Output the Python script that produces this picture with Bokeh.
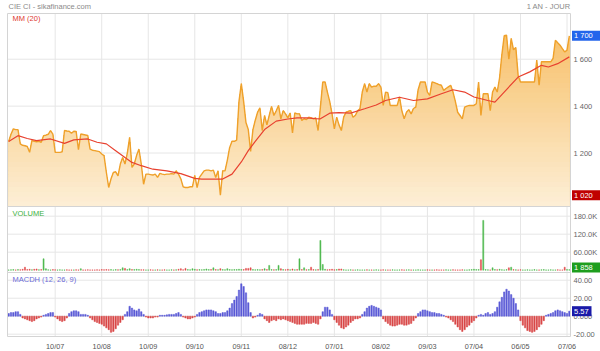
import numpy as np
from bokeh.plotting import figure
from bokeh.models import Range1d
from bokeh.core.properties import value
from bokeh.embed import file_html
from bokeh.resources import INLINE

# ---------------- data ----------------
close = [
    1249, 1280, 1303, 1300, 1300, 1239, 1233, 1231, 1228, 1203,
    1253, 1250, 1248, 1250, 1246, 1274, 1276, 1280, 1296, 1281,
    1203, 1203, 1203, 1205, 1296, 1294, 1293, 1284, 1293, 1292,
    1214, 1281, 1279, 1277, 1275, 1217, 1212, 1210, 1208, 1206,
    1196, 1189, 1117, 1053, 1090, 1117, 1120, 1103, 1153, 1181,
    1153, 1200, 1267, 1139, 1153, 1190, 1217, 1153, 1067, 1110,
    1110, 1108, 1106, 1110, 1096, 1113, 1110, 1108, 1110, 1110,
    1112, 1110, 1124, 1110, 1090, 1056, 1053, 1053, 1056, 1056,
    1105, 1053, 1096, 1110, 1124, 1127, 1127, 1124, 1127, 1096,
    1124, 1020, 1124, 1124, 1170, 1224, 1250, 1250, 1255, 1420,
    1496, 1420, 1330, 1300, 1207, 1300, 1340, 1374, 1393, 1296,
    1360, 1320, 1360, 1399, 1360, 1380, 1403, 1346, 1381, 1367,
    1350, 1371, 1286, 1371, 1367, 1367, 1339, 1346, 1343, 1353,
    1350, 1346, 1350, 1296, 1396, 1503, 1503, 1460, 1420, 1367,
    1303, 1353, 1320, 1296, 1353, 1374, 1378, 1381, 1353, 1360,
    1380, 1389, 1460, 1496, 1460, 1496, 1481, 1485, 1485, 1496,
    1481, 1403, 1460, 1457, 1403, 1403, 1403, 1403, 1439, 1380,
    1346, 1374, 1385, 1367, 1390, 1396, 1470, 1503, 1503, 1503,
    1460, 1446, 1503, 1500, 1496, 1492, 1489, 1467, 1475, 1482,
    1489, 1460, 1420, 1374, 1360, 1346, 1396, 1400, 1403, 1403,
    1403, 1410, 1503, 1360, 1453, 1453, 1453, 1381, 1460, 1481,
    1460, 1520, 1620, 1700, 1703, 1600, 1689, 1640, 1650, 1530,
    1503, 1503, 1503, 1503, 1503, 1503, 1503, 1596, 1489, 1589,
    1589, 1589, 1589, 1589, 1603, 1681, 1670, 1660, 1645, 1631,
    1639, 1700,
]

ma_idx = [0, 4, 8, 12, 18, 24, 28, 34, 38, 42,
          46, 50, 53, 57, 62, 68, 74, 80, 83, 92,
          96, 100, 103, 106, 110, 115, 120, 124, 128, 132,
          134, 138, 142, 147, 153, 158, 162, 168, 174, 180,
          186, 191, 196, 200, 206, 209, 213, 219, 224, 229,
          232, 236, 241]
ma_val = [1249, 1274, 1262, 1253, 1260, 1241, 1256, 1260, 1246, 1239,
          1210, 1181, 1160, 1146, 1131, 1124, 1112, 1092, 1089, 1089,
          1110, 1162, 1210, 1250, 1300, 1336, 1345, 1350, 1350, 1347,
          1346, 1370, 1372, 1370, 1389, 1405, 1424, 1438, 1424, 1431,
          1453, 1470, 1460, 1439, 1424, 1417, 1460, 1524, 1546, 1574,
          1567, 1581, 1610]

volume_k = [
    1, 1.5, 2, 1, 2, 1.5, 3, 10, 2, 3, 1.5, 3, 4, 1.5, 2, 38, 5, 1.5, 1, 2,
    1.5, 1, 1.5, 1, 1, 1.5, 1, 1, 1, 1.5, 1, 5, 1, 1, 1.5, 1, 1, 1, 1.5, 1,
    2, 1.5, 2, 1.5, 2, 1, 2, 1.5, 2, 8, 6, 2, 5, 2, 2, 3, 2, 1.5, 1.5, 1,
    1, 1.5, 1, 1, 1.5, 1, 1, 1.5, 1, 1, 1.5, 1, 1.5, 3, 5, 1.5, 6, 2, 1.5, 5,
    3, 1.5, 2, 1.5, 2, 4, 2, 2, 8, 2, 1.5, 5, 2, 1.5, 5, 2, 1.5, 2, 2, 3,
    2, 2, 6, 6, 8, 2, 1.5, 2, 1.5, 2, 5, 2, 16, 2, 1.5, 2, 16, 5, 2, 1.5,
    3, 1.5, 4, 1.5, 2, 38, 2, 8, 1.5, 2, 10, 2, 1.5, 2, 99, 19, 3, 1.5, 2, 3,
    1.5, 2, 4, 4, 1.5, 1, 1, 1.5, 1, 1, 1.5, 1, 1, 1, 1.5, 1, 1, 1, 1.5, 1,
    1, 1.5, 1, 1, 1, 1.5, 1, 1, 1, 1.5, 1, 1, 1.5, 1, 1, 1, 1.5, 1, 1, 1,
    1.5, 1, 1, 1, 1.5, 1, 1, 1, 1.5, 1, 1, 1.5, 1, 1, 1, 1.5, 1, 1, 1.5, 2,
    3, 2, 2, 35, 166, 2, 1.5, 1, 8, 2, 1.5, 3, 1.5, 1, 2, 8, 10, 2, 1.5, 1,
    1.5, 1, 1, 1.5, 1, 1, 2, 1, 1, 1.5, 2, 1, 1, 1.5, 1, 1, 1.5, 1, 1, 10, 2, 1.858,
]

macd_hist = [
    3, 4, 4, 5, 5, 2, -2, -3, -4, -5,
    -6, -5, -3, -2, -1, 1, 2, 3, 4, 4,
    -1, -3, -5, -6, -5, -2, 3, 5, 6, 6,
    5, 2, 2, 2, 1, -2, -4, -6, -7, -8,
    -9, -11, -13, -15, -18, -17, -14, -10, -7, -4,
    2, 5, 11, 9, 7, 6, 8, 5, 2, -1,
    -2, -2, -2, -1, -1, 1, 1, 1, 1.5, 2,
    2, 2, 3, 4, 2, -1, -2, -3, -3, -2,
    -1, 2, 4, 5, 6, 7, 7, 7, 6, 5,
    3, 3, 4, 4, 6, 9, 14, 18, 22, 29,
    36, 33, 26, 15, 4, -2, -1, 1, 3, 2,
    -3, -5, -7, -5, -4, -5, -3, -4, -3, -4,
    -5, -6, -7, -8, -9, -9, -9, -9, -8, -8,
    -8, -7, -8, -9, -3, 5, 10, 10, 7, 2,
    -4, -7, -10, -13, -14, -12, -10, -7, -5, -3,
    -3, -2, 2, 5, 9, 11, 12, 11, 10, 9,
    7, -3, -6, -8, -10, -11, -11, -10, -9, -9,
    -10, -10, -9, -8, -5, -2, 3, 5, 7, 7,
    6, 5, 4, 4, 3, 3, 2, 1, -1, -2,
    -4, -6, -9, -12, -15, -17, -15, -12, -10, -7,
    -5, -2, 1, 2, 1, 3, 4, 2, 3, 5,
    10, 16, 21, 27, 30, 28, 24, 20, 14, 7,
    -5, -10, -13, -16, -17, -18, -17, -15, -12, -9,
    -5, 1, 2, 3, 4, 6, 7, 6, 5, 4,
    3, 5.57,
]

tick_idx = [20, 40, 60, 80, 100, 120, 140, 160, 180, 200, 220, 240]
tick_labels = ["10/07", "10/08", "10/09", "09/10", "09/11", "08/12",
               "07/01", "08/02", "09/03", "07/04", "06/05", "07/06"]

price_ticks = [1200, 1400, 1600]
price_tick_labels = ["1 200", "1 400", "1 600"]
vol_ticks = [60, 120, 180]
vol_tick_labels = ["60.00K", "120.0K", "180.0K"]
macd_ticks = [-20, 0, 20, 40]
macd_tick_labels = ["-20.00", "0.000", "20.00", "40.00"]

# ---------------- layout (canvas pixels) ----------------
W, H = 600, 351
FX0, FX1 = 7, 570                 # plotting frame, left / right
PX = (FX1 - FX0) / len(close)     # pixels per session

# panels: (top px, bottom px, value at top, value at bottom)
P_T, P_B, P_VT, P_VB = 13, 206, 1795.0, 972.0
V_T, V_B, V_VT, V_VB = 206, 272, 212.3, -7.7
M_T, M_B, M_VT, M_VB = 272, 336, 48.6, -22.6


def xpx(px):
    return -0.5 + (px - FX0) / PX


def mk(top, bot, vt, vb):
    k = (vt - vb) / (bot - top)
    return lambda py: vt - (py - top) * k


P = mk(P_T, P_B, P_VT, P_VB)
V = mk(V_T, V_B, V_VT, V_VB)
M = mk(M_T, M_B, M_VT, M_VB)

FONT = "Liberation Sans"
FS = "7.5px"
GRID = "#e6e6e6"
OUTLINE = "#d4d4d4"

p = figure(width=W, height=H, x_range=Range1d(xpx(0), xpx(W)),
           y_range=Range1d(P(H), P(0)), output_backend="svg",
           toolbar_location=None, title=None, min_border=0,
           x_axis_location=None, y_axis_location=None)
p.extra_y_ranges = {"vol": Range1d(V(H), V(0)), "macd": Range1d(M(H), M(0))}
p.xgrid.visible = False
p.ygrid.visible = False
p.outline_line_color = None
p.background_fill_color = "white"
p.border_fill_color = "white"

panels = [("default", P, P_T, P_B, price_ticks, price_tick_labels),
          ("vol", V, V_T, V_B, vol_ticks, vol_tick_labels),
          ("macd", M, M_T, M_B, macd_ticks, macd_tick_labels)]

# grids + tick labels
for rname, f, top, bot, yt, yl in panels:
    n = len(tick_idx)
    p.segment(x0=tick_idx, x1=tick_idx, y0=[f(bot)] * n, y1=[f(top)] * n,
              line_color=GRID, line_width=1, y_range_name=rname)
    m = len(yt)
    p.segment(x0=[xpx(FX0)] * m, x1=[xpx(FX1)] * m, y0=yt, y1=yt,
              line_color=GRID, line_width=1, y_range_name=rname)
    p.text(x=[xpx(573)] * m, y=yt, text=yl, text_font=value(FONT),
           text_font_size=value(FS), text_color="#666666",
           text_baseline="middle", text_align="left", y_range_name=rname)

idx = list(range(len(close)))

# ---------------- price panel ----------------
top_rgb = np.array([246, 188, 96])
bot_rgb = np.array([253, 239, 216])
cl = np.array(close, dtype=float)
for L in np.linspace(P_VT, P_VB, 40):
    t = (L - P_VB) / (P_VT - P_VB)
    c = bot_rgb + t * (top_rgb - bot_rgb)
    col = "#%02x%02x%02x" % tuple(int(round(v)) for v in c)
    p.varea(x=idx, y1=P_VB, y2=np.minimum(cl, L), fill_color=col, fill_alpha=0.92)

p.line(idx, close, line_color="#EFA12B", line_width=1.4)
p.line(ma_idx, ma_val, line_color="#E8412F", line_width=1.2)

# ---------------- volume panel ----------------
vcol = ["#4DB84D" if i == 0 or close[i] >= close[i - 1] else "#E04848"
        for i in range(len(volume_k))]
p.vbar(x=list(range(len(volume_k))), top=volume_k, bottom=0, width=0.45,
       fill_color=vcol, line_color=vcol, line_width=0.5, y_range_name="vol")

# ---------------- MACD histogram panel ----------------
mcol = ["#5A5AD6" if v >= 0 else "#D94848" for v in macd_hist]
p.vbar(x=list(range(len(macd_hist))), top=macd_hist, bottom=0, width=0.6,
       fill_color=mcol, line_color=mcol, line_width=0.5, y_range_name="macd")

# panel borders
for rname, f, top, bot, yt, yl in panels:
    p.quad(left=[xpx(FX0)], right=[xpx(FX1)], bottom=[f(bot)], top=[f(top)],
           fill_color=None, line_color=OUTLINE, line_width=1, y_range_name=rname)

# x tick labels under the MACD panel
p.text(x=tick_idx, y=[M(345.5)] * len(tick_idx), text=tick_labels,
       text_font=value(FONT), text_font_size=value("7.3px"), text_color="#555555",
       text_baseline="middle", text_align="center", y_range_name="macd")

# header
p.text(x=[xpx(8)], y=[P(5.5)], text=["CIE CI - sikafinance.com"],
       text_font=value(FONT), text_font_size=value(FS), text_color="#8a8a8a",
       text_baseline="middle", text_align="left")
p.text(x=[xpx(FX1)], y=[P(5.5)], text=["1 AN - JOUR"],
       text_font=value(FONT), text_font_size=value(FS), text_color="#8a8a8a",
       text_baseline="middle", text_align="right")

# panel titles
for rname, f, ypx, txt, col in [("default", P, 17.8, "MM (20)", "#E0392F"),
                                ("vol", V, 213, "VOLUME", "#3DB03D"),
                                ("macd", M, 279, "MACDH (12, 26, 9)", "#6B6BD6")]:
    p.text(x=[xpx(12)], y=[f(ypx)], text=[txt], text_font=value(FONT),
           text_font_size=value(FS), text_color=col, text_baseline="middle",
           text_align="left", y_range_name=rname)


# value tags on the right scale
def fmt_int(v):
    return "{:,}".format(int(round(v))).replace(",", " ")


tags = [("default", P, P_T, P_B, close[-1], fmt_int(close[-1]), "#2364EB", 600),
        ("default", P, P_T, P_B, min(close), fmt_int(min(close)), "#C00000", 600),
        ("vol", V, V_T, V_B, volume_k[-1], fmt_int(volume_k[-1] * 1000), "#1E9E1E", 600),
        ("macd", M, M_T, M_B, macd_hist[-1], "%.2f" % macd_hist[-1], "#1A1AA8", 591)]
for rname, f, top, bot, v, txt, col, right in tags:
    k = (f(top) - f(bot)) / (bot - top)          # value per pixel
    # keep the box inside its panel
    vc = min(max(v, f(bot - 5)), f(top + 5))
    p.quad(left=[xpx(571.5)], right=[xpx(right)], bottom=[vc - 5 * k], top=[vc + 5 * k],
           fill_color=col, line_color=None, y_range_name=rname)
    p.text(x=[xpx(573.5)], y=[vc], text=[txt], text_font=value(FONT),
           text_font_size=value(FS), text_color="white", text_baseline="middle",
           text_align="left", y_range_name=rname)

open("out.html", "w").write(file_html(p, INLINE))
